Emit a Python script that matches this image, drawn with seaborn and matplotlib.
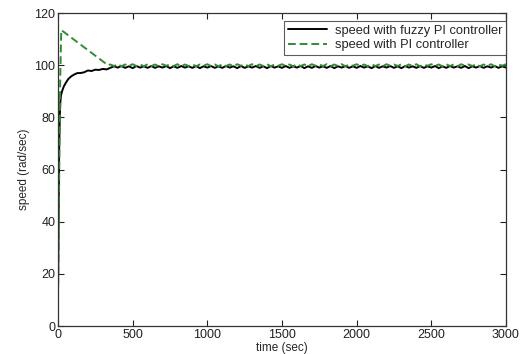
import numpy as np
import pandas as pd
import matplotlib
matplotlib.use("Agg")
import matplotlib.pyplot as plt
import seaborn as sns

# ---- data -------------------------------------------------------------
# start-up transient, fuzzy PI controller
t_fuzzy_start = [0, 4, 8, 12, 16, 20, 30, 40, 55, 70, 90, 110, 130, 150,
                 175, 200, 225, 250, 275, 300, 325]
w_fuzzy_start = [11, 40, 68, 80, 86, 88.5, 90.5, 92, 93.5, 94.8, 95.8, 96.5,
                 97.0, 97.0, 97.3, 98.0, 97.8, 98.3, 98.2, 98.6, 98.4]

# start-up transient, conventional PI controller
t_pi_start = [0, 5, 10, 15, 22, 335]
w_pi_start = [11, 36, 70, 95, 113.5, 100.0]

# steady-state samples every 25 s from 350 s to 3000 s
t_steady = np.arange(350, 3001, 25)
w_fuzzy_steady = [
    99.0, 99.6, 99.1, 99.7, 99.0, 99.6, 98.9, 99.7, 99.1, 99.6,
    99.0, 99.7, 99.0, 99.6, 99.1, 99.7, 98.9, 99.6, 99.0, 99.7,
    99.1, 99.6, 99.0, 99.7, 98.9, 99.6, 99.1, 99.7, 99.0, 99.6,
    99.0, 99.7, 99.1, 99.6, 98.9, 99.7, 99.0, 99.6, 99.1, 99.7,
    99.0, 99.6, 98.9, 99.7, 99.1, 99.6, 99.0, 99.7, 99.0, 99.6,
    99.1, 99.7, 98.9, 99.6, 99.0, 99.7, 99.1, 99.6, 99.0, 99.7,
    98.9, 99.6, 99.1, 99.7, 99.0, 99.6, 99.0, 99.7, 99.1, 99.6,
    98.9, 99.7, 99.0, 99.6, 99.1, 99.7, 99.0, 99.6, 98.9, 99.7,
    99.1, 99.6, 99.0, 99.7, 99.0, 99.6, 99.1, 99.7, 98.9, 99.6,
    99.0, 99.7, 99.1, 99.6, 99.0, 99.7, 98.9, 99.6, 99.1, 99.7,
    99.0, 99.6, 99.1, 99.7, 99.0, 99.6, 99.1,
]
w_pi_steady = [
    100.3, 99.7, 100.4, 99.6, 100.3, 99.8, 100.4, 99.7, 100.3, 99.6,
    100.4, 99.7, 100.3, 99.6, 100.4, 99.8, 100.3, 99.7, 100.4, 99.6,
    100.3, 99.7, 100.4, 99.6, 100.3, 99.8, 100.4, 99.7, 100.3, 99.6,
    100.4, 99.7, 100.3, 99.6, 100.4, 99.8, 100.3, 99.7, 100.4, 99.6,
    100.3, 99.7, 100.4, 99.6, 100.3, 99.8, 100.4, 99.7, 100.3, 99.6,
    100.4, 99.7, 100.3, 99.6, 100.4, 99.8, 100.3, 99.7, 100.4, 99.6,
    100.3, 99.7, 100.4, 99.6, 100.3, 99.8, 100.4, 99.7, 100.3, 99.6,
    100.4, 99.7, 100.3, 99.6, 100.4, 99.8, 100.3, 99.7, 100.4, 99.6,
    100.3, 99.7, 100.4, 99.6, 100.3, 99.8, 100.4, 99.7, 100.3, 99.6,
    100.4, 99.7, 100.3, 99.6, 100.4, 99.8, 100.3, 99.7, 100.4, 99.6,
    100.3, 99.7, 100.4, 99.6, 100.3, 99.8, 100.4,
]

labels = ["speed with fuzzy PI controller", "speed with PI controller"]
x_ticks = [0, 500, 1000, 1500, 2000, 2500, 3000]
y_ticks = [0, 20, 40, 60, 80, 100, 120]

# ---- assemble ---------------------------------------------------------
fuzzy = pd.DataFrame({
    "time": list(t_fuzzy_start) + list(t_steady),
    "speed": list(w_fuzzy_start) + list(w_fuzzy_steady),
})
pi = pd.DataFrame({
    "time": list(t_pi_start) + list(t_steady),
    "speed": list(w_pi_start) + list(w_pi_steady),
})

# ---- plot -------------------------------------------------------------
sns.set_style("ticks")
plt.rcParams["font.family"] = ["Liberation Sans", "DejaVu Sans"]

fig = plt.figure(figsize=(5.2, 3.54), dpi=100)
ax = fig.add_axes([0.1115, 0.079, 0.8615, 0.884])

sns.lineplot(data=fuzzy, x="time", y="speed", ax=ax, color="black",
             linewidth=1.4, label=labels[0], sort=False)
sns.lineplot(data=pi, x="time", y="speed", ax=ax, color="#338c33",
             linewidth=1.4, linestyle=(0, (4, 2)), label=labels[1], sort=False)

ax.set_xlim(0, 3000)
ax.set_ylim(0, 120)
ax.set_xticks(x_ticks)
ax.set_yticks(y_ticks)
ax.tick_params(direction="in", length=4, width=0.8, labelsize=9,
               top=True, right=True, colors="#222222", pad=2)
for s in ax.spines.values():
    s.set_visible(True)
    s.set_linewidth(0.9)
    s.set_color("#333333")

ax.set_xlabel("time (sec)", fontsize=8.5, labelpad=1)
ax.set_ylabel("speed (rad/sec)", fontsize=8.5, labelpad=3)

leg = ax.legend(loc="upper right", fontsize=9.3, frameon=True, fancybox=False,
                borderaxespad=0.0, bbox_to_anchor=(1.0, 0.975),
                handlelength=3.0, handletextpad=0.6, borderpad=0.3,
                labelspacing=0.2)
leg.get_frame().set_edgecolor("#333333")
leg.get_frame().set_linewidth(0.8)

fig.savefig("out.png", dpi=100)
